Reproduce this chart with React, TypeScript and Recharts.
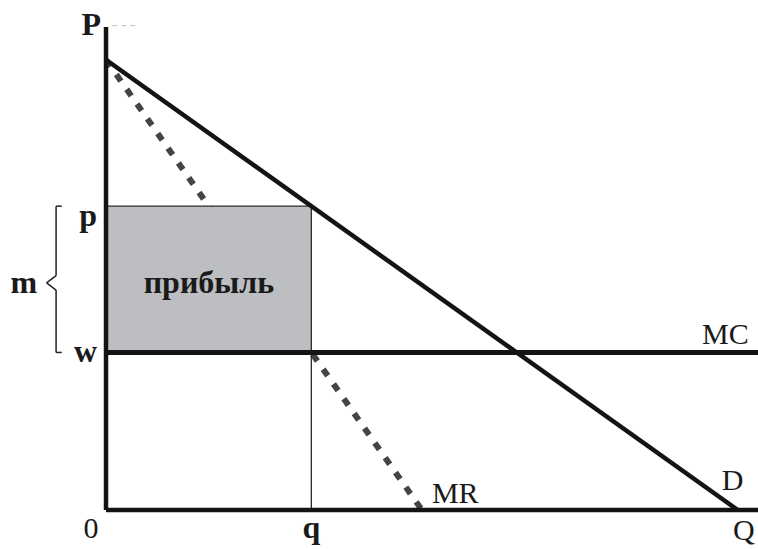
import React from "react";
import {
  ComposedChart,
  Line,
  XAxis,
  YAxis,
  ReferenceArea,
  ReferenceLine,
  ReferenceDot,
} from "recharts";

// quantity axis: 0, q (profit-max output), Q (demand intercept)
const xTicks = [0, 32.5, 100];
const xTickLabels = ["0", "q", "Q"];
// price axis: w (marginal cost), p (monopoly price), P (axis top)
const yTicks = [35, 67.5, 107.3];
const yTickLabels = ["w", "p", "P"];

const demandQ = [0, 100];
const demandP = [100, 0];
const mrQ = [0, 50];
const mrP = [100, 0];
const mcQ = [0, 103.2];
const mcP = [35, 35];

const qStar = 32.5;
const pStar = 67.5;
const wLevel = 35;

const toPoints = (xs: number[], ys: number[]) =>
  xs.map((x, i) => ({ x, y: ys[i] }));

const demandData = toPoints(demandQ, demandP);
const mrData = toPoints(mrQ, mrP);
const mcData = toPoints(mcQ, mcP);

const FONT = "'Liberation Serif', 'Times New Roman', serif";

// brace for markup m, to the left of the price axis
const braceX = -7.9;
const braceHook = -7.0;
const braceTip = -9.4;
const braceMid = (pStar + wLevel) / 2 - 0.8;

const xTick = (props: any) => {
  const { x, y, payload } = props;
  const idx = xTicks.indexOf(payload.value);
  const dx = [-15, 0, 6][idx] ?? 0;
  const dy = [28, 28, 30][idx] ?? 28;
  return (
    <text
      x={x + dx}
      y={y + dy}
      textAnchor="middle"
      fontFamily={FONT}
      fontSize={idx === 1 ? 32 : 30}
      fontWeight={idx === 1 ? "bold" : "normal"}
      fill="#1a1a1a"
    >
      {xTickLabels[idx]}
    </text>
  );
};

const yTick = (props: any) => {
  const { x, y, payload } = props;
  const idx = yTicks.indexOf(payload.value);
  const dx = [-9, -9, -5][idx] ?? -9;
  const dy = [10, 20, 8][idx] ?? 0;
  return (
    <text
      x={x + dx}
      y={y + dy}
      textAnchor="end"
      fontFamily={FONT}
      fontSize={32}
      fontWeight="bold"
      fill="#1a1a1a"
    >
      {yTickLabels[idx]}
    </text>
  );
};

const textLabel =
  (text: string, dx: number, dy: number, bold = false, size = 30) =>
  (props: any) => {
    const vb = props.viewBox || {};
    const cx = (vb.x ?? 0) + (vb.width ?? 0) / 2;
    const cy = (vb.y ?? 0) + (vb.height ?? 0) / 2;
    return (
      <text
        x={cx + dx}
        y={cy + dy}
        textAnchor="start"
        fontFamily={FONT}
        fontSize={size}
        fontWeight={bold ? "bold" : "normal"}
        fill="#1a1a1a"
      >
        {text}
      </text>
    );
  };

export default function App() {
  return (
    <div style={{ position: "absolute", left: 0, top: 0, background: "#fff" }}>
      <ComposedChart
        width={758}
        height={549}
        margin={{ top: 27, right: 0, bottom: 9, left: 46 }}
      >
        <XAxis
          dataKey="x"
          type="number"
          domain={[0, 103.2]}
          allowDataOverflow
          ticks={xTicks}
          interval={0}
          tick={xTick}
          tickLine={false}
          tickSize={0}
          tickMargin={0}
          axisLine={{ stroke: "#141414", strokeWidth: 4.5 }}
          height={30}
        />
        <YAxis
          dataKey="y"
          type="number"
          domain={[0, 107.3]}
          allowDataOverflow
          ticks={yTicks}
          interval={0}
          tick={yTick}
          tickLine={false}
          tickSize={0}
          tickMargin={0}
          axisLine={{ stroke: "#141414", strokeWidth: 4.5 }}
          width={60}
        />

        <Line
          data={mrData}
          dataKey="y"
          stroke="#444"
          strokeWidth={6}
          strokeDasharray="8 10"
          dot={false}
          activeDot={false}
          isAnimationActive={false}
        />

        <ReferenceArea
          x1={0}
          x2={qStar}
          y1={wLevel}
          y2={pStar}
          fill="#bcbec2"
          fillOpacity={1}
          stroke="none"
          ifOverflow="visible"
          zIndex={405}
          label={textLabel("прибыль", -65, 14, true, 32)}
        />
        <ReferenceLine
          segment={[
            { x: 0, y: pStar },
            { x: qStar, y: pStar },
          ]}
          stroke="#2a2a2a"
          strokeWidth={1.3}
          zIndex={406}
        />
        <ReferenceLine
          segment={[
            { x: qStar, y: 0 },
            { x: qStar, y: pStar },
          ]}
          stroke="#2a2a2a"
          strokeWidth={1.3}
          zIndex={406}
        />

        {/* faint dashes next to P */}
        <ReferenceLine
          segment={[
            { x: 1, y: 107.6 },
            { x: 4.8, y: 107.6 },
          ]}
          stroke="#bbb"
          strokeWidth={1}
          strokeDasharray="5 4"
          ifOverflow="visible"
        />

        {/* brace for m */}
        <ReferenceLine
          segment={[
            { x: braceHook, y: pStar },
            { x: braceX, y: pStar },
          ]}
          stroke="#222"
          strokeWidth={1.5}
          ifOverflow="visible"
        />
        <ReferenceLine
          segment={[
            { x: braceX, y: pStar },
            { x: braceX, y: braceMid + 1.6 },
          ]}
          stroke="#222"
          strokeWidth={1.5}
          ifOverflow="visible"
        />
        <ReferenceLine
          segment={[
            { x: braceX, y: braceMid + 1.6 },
            { x: braceTip, y: braceMid },
          ]}
          stroke="#222"
          strokeWidth={1.5}
          ifOverflow="visible"
        />
        <ReferenceLine
          segment={[
            { x: braceTip, y: braceMid },
            { x: braceX, y: braceMid - 1.6 },
          ]}
          stroke="#222"
          strokeWidth={1.5}
          ifOverflow="visible"
        />
        <ReferenceLine
          segment={[
            { x: braceX, y: braceMid - 1.6 },
            { x: braceX, y: wLevel },
          ]}
          stroke="#222"
          strokeWidth={1.5}
          ifOverflow="visible"
        />
        <ReferenceLine
          segment={[
            { x: braceX, y: wLevel },
            { x: braceHook, y: wLevel },
          ]}
          stroke="#222"
          strokeWidth={1.5}
          ifOverflow="visible"
        />

        <Line
          data={mcData}
          dataKey="y"
          stroke="#141414"
          strokeWidth={5}
          dot={false}
          activeDot={false}
          isAnimationActive={false}
          zIndex={420}
        />
        <Line
          data={demandData}
          dataKey="y"
          stroke="#141414"
          strokeWidth={4.5}
          dot={false}
          activeDot={false}
          isAnimationActive={false}
          zIndex={420}
        />

        <ReferenceDot
          x={braceTip}
          y={braceMid}
          r={0}
          fill="none"
          stroke="none"
          ifOverflow="visible"
          label={textLabel("m", -36, 10, true, 32)}
        />
        <ReferenceDot
          x={103.2}
          y={wLevel}
          r={0}
          fill="none"
          stroke="none"
          ifOverflow="visible"
          label={textLabel("MC", -56, -8)}
        />
        <ReferenceDot
          x={100}
          y={0}
          r={0}
          fill="none"
          stroke="none"
          ifOverflow="visible"
          label={textLabel("D", -16, -20)}
        />
        <ReferenceDot
          x={50}
          y={0}
          r={0}
          fill="none"
          stroke="none"
          ifOverflow="visible"
          label={textLabel("MR", 10, -7)}
        />
      </ComposedChart>
    </div>
  );
}
